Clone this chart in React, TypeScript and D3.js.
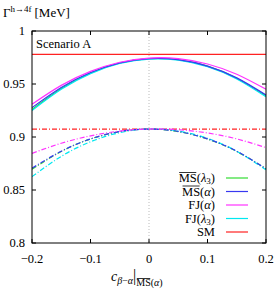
import { useEffect, useRef, useState } from 'react';
import * as d3 from 'd3';

const W = 275;
const H = 293;

// x = c_{β-α}
const xs = [-0.2, -0.15, -0.1, -0.05, 0, 0.05, 0.1, 0.15, 0.2];

// upper band (solid): Γ^{h→4f} in MeV
const msLam3Up = [0.926, 0.9458, 0.9604, 0.9698, 0.974, 0.973, 0.9669, 0.9555, 0.939];
const msAlphaUp = [0.9277, 0.9468, 0.9609, 0.97, 0.974, 0.973, 0.9669, 0.9558, 0.9396];
const fjAlphaUp = [0.9309, 0.9487, 0.9619, 0.9705, 0.9745, 0.974, 0.9689, 0.9592, 0.945];
const fjLam3Up = [0.925, 0.945, 0.9598, 0.9693, 0.9735, 0.9725, 0.9663, 0.9548, 0.938];

// lower band (dash-dot)
const msLam3Lo = [0.8695, 0.8863, 0.8981, 0.9051, 0.9075, 0.9051, 0.8981, 0.8863, 0.87];
const msAlphaLo = [0.8705, 0.8866, 0.8982, 0.9052, 0.9075, 0.9052, 0.8982, 0.8866, 0.87];
const fjAlphaLo = [0.8846, 0.8941, 0.9011, 0.9056, 0.9075, 0.9069, 0.9038, 0.8982, 0.89];
const fjLam3Lo = [0.8626, 0.8817, 0.8955, 0.9041, 0.9075, 0.9057, 0.8987, 0.8865, 0.869];

const smUp = 0.978;
const smLo = 0.9075;

const xTicks = [-0.2, -0.1, 0, 0.1, 0.2];
const xTickLabels = ['\u22120.2', '\u22120.1', '0', '0.1', '0.2'];
const yTicks = [0.8, 0.85, 0.9, 0.95, 1];
const yTickLabels = ['0.8', '0.85', '0.9', '0.95', '1'];

const GREEN = '#33dd33';
const BLUE = '#3838f0';
const MAGENTA = '#ff33ff';
const CYAN = '#00e8f0';
const RED = '#ff2222';
const DASHDOT = '5,2,1,2';

const series = [
  { key: 'msl-up', vals: msLam3Up, color: GREEN, dash: undefined },
  { key: 'fjl-up', vals: fjLam3Up, color: CYAN, dash: undefined },
  { key: 'msa-up', vals: msAlphaUp, color: BLUE, dash: undefined },
  { key: 'fja-up', vals: fjAlphaUp, color: MAGENTA, dash: undefined },
  { key: 'msl-lo', vals: msLam3Lo, color: GREEN, dash: DASHDOT },
  { key: 'fjl-lo', vals: fjLam3Lo, color: CYAN, dash: DASHDOT },
  { key: 'msa-lo', vals: msAlphaLo, color: BLUE, dash: DASHDOT },
  { key: 'fja-lo', vals: fjAlphaLo, color: MAGENTA, dash: DASHDOT },
];

// legend: scheme, argument, colour
const legend = [
  { scheme: 'MS', arg: 'λ', sub: '3', color: GREEN },
  { scheme: 'MS', arg: 'α', sub: '', color: BLUE },
  { scheme: 'FJ', arg: 'α', sub: '', color: MAGENTA },
  { scheme: 'FJ', arg: 'λ', sub: '3', color: CYAN },
  { scheme: 'SM', arg: '', sub: '', color: RED },
];

const FONT = '"Liberation Serif", "DejaVu Serif", serif';
const FS = 12.5;

type Bar = { x1: number; x2: number; y: number };

export default function App() {
  const svgRef = useRef<SVGSVGElement>(null);
  const [bars, setBars] = useState<Bar[]>([]);

  const left = 32;
  const right = 266;
  const top = 31;
  const bottom = 243;

  const x = d3.scaleLinear().domain([-0.2, 0.2]).range([left, right]);
  const y = d3.scaleLinear().domain([0.8, 1]).range([bottom, top]);

  const line = d3.line<number>()
    .x((_, i) => x(xs[i]))
    .y(d => y(d))
    .curve(d3.curveNatural);

  const tick = 4;

  // overline bars over the "MS" pieces
  useEffect(() => {
    if (!svgRef.current) return;
    const out: Bar[] = [];
    svgRef.current.querySelectorAll<SVGTSpanElement>('.ovl').forEach(el => {
      const b = el.getBBox();
      out.push({ x1: b.x + 0.5, x2: b.x + b.width - 0.5, y: b.y + 1.5 });
    });
    setBars(out);
  }, []);

  return (
    <svg ref={svgRef} width={W} height={H} style={{ position: 'absolute', left: 0, top: 0, fontFamily: FONT }}>
      <defs>
        <clipPath id="plot">
          <rect x={left} y={top} width={right - left} height={bottom - top} />
        </clipPath>
      </defs>

      {/* y title */}
      <text x={3} y={17} fontSize={13} fill="#000">
        Γ<tspan dy={-5} fontSize={9}>h→4f</tspan>
        <tspan dy={5} dx={3}>[MeV]</tspan>
      </text>

      {/* zero line */}
      <line x1={x(0)} x2={x(0)} y1={top} y2={bottom} stroke="#bbb" strokeWidth={1} strokeDasharray="1,2" />

      <g clipPath="url(#plot)">
        <line x1={left} x2={right} y1={y(smUp)} y2={y(smUp)} stroke={RED} strokeWidth={1.2} />
        <line x1={left} x2={right} y1={y(smLo)} y2={y(smLo)} stroke={RED} strokeWidth={1.2} strokeDasharray={DASHDOT} />
        {series.map(s => (
          <path key={s.key} d={line(s.vals) ?? ''} fill="none" stroke={s.color}
            strokeWidth={1.2} strokeDasharray={s.dash} />
        ))}
      </g>

      {/* ticks */}
      {xTicks.map((t, i) => (
        <g key={'x' + i}>
          <line x1={x(t)} x2={x(t)} y1={bottom} y2={bottom - tick} stroke="#000" />
          <line x1={x(t)} x2={x(t)} y1={top} y2={top + tick} stroke="#000" />
          <text x={x(t)} y={263} fontSize={FS} textAnchor="middle">{xTickLabels[i]}</text>
        </g>
      ))}
      {yTicks.map((t, i) => (
        <g key={'y' + i}>
          <line x1={left} x2={left + tick} y1={y(t)} y2={y(t)} stroke="#000" />
          <line x1={right} x2={right - tick} y1={y(t)} y2={y(t)} stroke="#000" />
          <text x={25} y={y(t) + 4} fontSize={FS} textAnchor="end">{yTickLabels[i]}</text>
        </g>
      ))}

      {/* frame */}
      <rect x={left} y={top} width={right - left} height={bottom - top} fill="none" stroke="#000" strokeWidth={1} />

      <text x={36} y={48} fontSize={FS}>Scenario A</text>

      {/* legend */}
      {legend.map((l, i) => {
        const ly = 178 + i * 13.5;
        return (
          <g key={i}>
            <text x={215} y={ly + 4} fontSize={FS} textAnchor="end">
              <tspan className={l.scheme === 'MS' ? 'ovl' : undefined}>{l.scheme}</tspan>
              {l.arg && <tspan>(</tspan>}
              {l.arg && <tspan fontStyle="italic">{l.arg}</tspan>}
              {l.sub && <tspan fontSize={9} dy={2}>{l.sub}</tspan>}
              {l.arg && <tspan dy={l.sub ? -2 : 0}>)</tspan>}
            </text>
            <line x1={226} x2={248} y1={ly} y2={ly} stroke={l.color} strokeWidth={1.2} />
          </g>
        );
      })}

      {/* x title */}
      <text x={111} y={281} fontSize={14}>
        <tspan fontStyle="italic">c</tspan>
        <tspan fontSize={10} dy={3} fontStyle="italic">β</tspan><tspan fontSize={10}>−</tspan><tspan fontSize={10} fontStyle="italic">α</tspan>
        <tspan dy={-3} fontSize={16}>|</tspan>
        <tspan className="ovl" fontSize={10} dy={5}>MS</tspan><tspan fontSize={10}>(</tspan><tspan fontSize={10} fontStyle="italic">α</tspan><tspan fontSize={10}>)</tspan>
      </text>

      {bars.map((b, i) => (
        <line key={'ov' + i} x1={b.x1} x2={b.x2} y1={b.y} y2={b.y} stroke="#000" strokeWidth={0.8} />
      ))}
    </svg>
  );
}
